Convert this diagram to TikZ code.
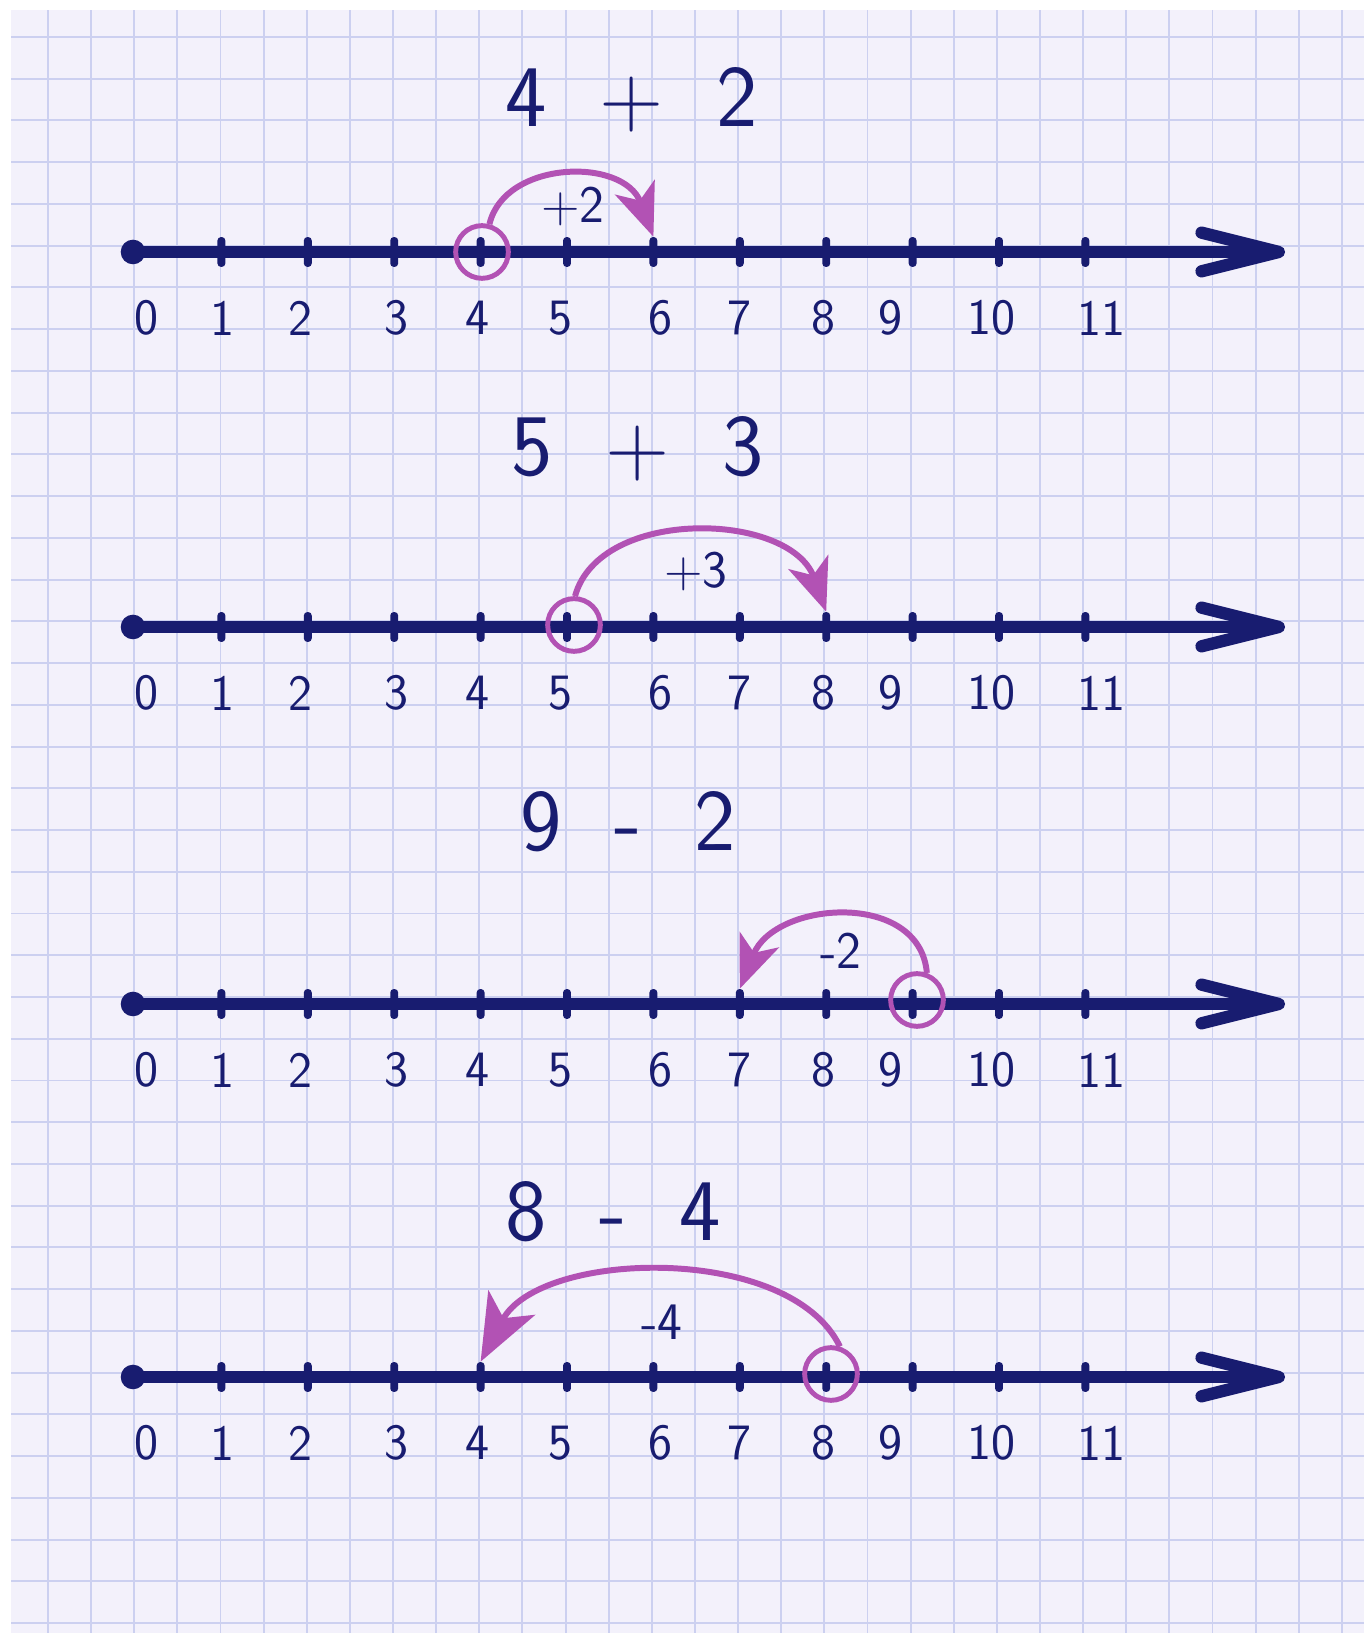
\documentclass[tikz,border=0pt]{standalone}
\usepackage{amsmath,amssymb}
\usepackage{tikz}
\usetikzlibrary{arrows.meta, calc}

\definecolor{ink}{RGB}{24,28,112}
\definecolor{hopcol}{RGB}{178,82,180}
\definecolor{paper}{RGB}{243,241,251}
\definecolor{gridcol}{RGB}{204,208,240}

\begin{document}
\begin{tikzpicture}[x=0.02cm, y=0.02cm,
    dot/.style={circle, fill=ink, inner sep=0pt, minimum size=14pt},
    tickmark/.style={rectangle, fill=ink, rounded corners=2pt, inner sep=0pt, minimum width=4.5pt, minimum height=17pt},
    axis/.style={ink, line width=7pt, -{Straight Barb[length=44pt, width=22pt, round]}},
    ring/.style={circle, draw=hopcol, line width=2.8pt, inner sep=0pt, minimum size=30pt},
    hop/.style={hopcol, line width=3.4pt, -{Stealth[length=30pt, width=24pt, inset=8pt]}},
    num/.style={ink, font={\fontsize{29}{32}\selectfont\sffamily}},
    sum/.style={ink, font={\fontsize{50}{56}\selectfont\sffamily\spaceskip=0.6em\relax}},
    hoplabel/.style={ink, font={\fontsize{30}{34}\selectfont\sffamily}}]
    \useasboundingbox (0,0) rectangle (1364,1633);

    % Paper
    \fill[paper] (11,0) rectangle (1364,1623);
    \foreach \i in {0,...,30}
        \draw[gridcol, line width=1.1pt] ({48+43.13*\i},0) -- ({48+43.13*\i},1623);
    \foreach \j in {0,...,38}
        \draw[gridcol, line width=1.1pt] (11,{1596-41.74*\j}) -- (1364,{1596-41.74*\j});

    % Number lines
    \foreach \nl/\ay in {a/1381, b/1006, c/629, d/256} {
        \node[dot] (\nl0) at (133,\ay) {};
        \coordinate (\nl end) at (1285,\ay);
        \draw[axis] (\nl0.center) -- (\nl end);
        \foreach \n in {1,...,11}
            \node[tickmark] (\nl\n) at ({135+86.4*\n},\ay) {};
        \foreach \n/\lx in {0/146, 1/222, 2/300, 3/396, 4/477, 5/560, 6/660, 7/739, 8/823, 9/890, 10/991, 11/1101}
            \node[num] (n\nl\n) at (\lx,\ay-66) {\n};
    }

    % Sums
    \node[sum] (qa) at (632,1533) {4 + 2};
    \node[sum] (qb) at (638,1184) {5 + 3};
    \node[sum] (qc) at (628,811) {9 - 2};
    \node[sum] (qd) at (613,421) {8 - 4};

    % 4 + 2
    \node[ring] (sa) at (482,1381) {};
    \draw[hop] (sa.75) .. controls ($(sa.75)+(15,64)$) and ($(a6.north)+(-30,80)$) .. (a6.north);
    \node[hoplabel] (ha) at (573,1427) {+2};

    % 5 + 3
    \node[ring] (sb) at (574,1008) {};
    \draw[hop] (sb.88) .. controls ($(sb.88)+(25,90)$) and ($(b8.north)+(-36,100)$) .. (b8.north);
    \node[hoplabel] (hb) at (696,1062) {+3};

    % 9 - 2
    \node[ring] (sc) at (917,633) {};
    \draw[hop] (sc.70) .. controls ($(sc.70)+(-7,83)$) and ($(c7.north)+(35,88)$) .. (c7.north);
    \node[hoplabel] (hc) at (841,682) {-2};

    % 8 - 4
    \node[ring] (sd) at (831,259) {};
    \draw[hop, -{Stealth[length=38pt, width=30pt, inset=10pt]}] (sd.72) .. controls ($(sd.72)+(-50,104)$) and ($(d4.north)+(59,112)$) .. (d4.north);
    \node[hoplabel] (hd) at (662,311) {-4};
\end{tikzpicture}
\end{document}
